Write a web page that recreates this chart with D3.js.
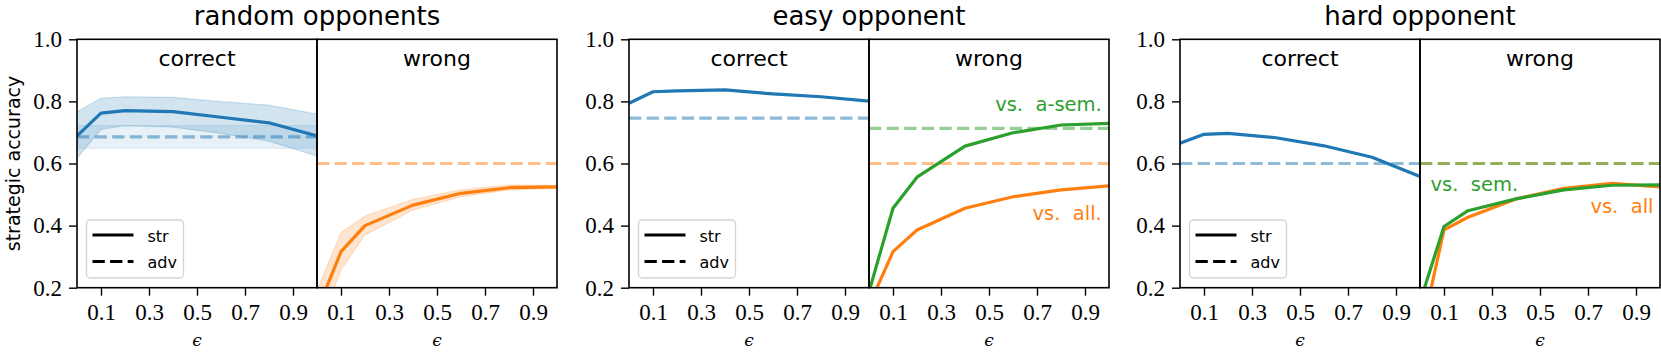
<!DOCTYPE html>
<html>
<head>
<meta charset="utf-8">
<script src="https://cdn.jsdelivr.net/npm/d3@7"></script>
<style>
  html, body { margin: 0; padding: 0; background: #fff; }
  svg { display: block; }
</style>
</head>
<body>
<svg id="chart" width="1661" height="352"></svg>
<script>
// ---------------- data ----------------
const eps = [0, 0.1, 0.2, 0.4, 0.6, 0.8, 1.0];
const xTicks = [0.1, 0.3, 0.5, 0.7, 0.9];
const yTicks = [0.2, 0.4, 0.6, 0.8, 1.0];
const panelTitles = ["random opponents", "easy opponent", "hard opponent"];
const subTitles = ["correct", "wrong"];
const legendLabels = ["str", "adv"];

// random opponents
const randCorrectStr   = [0.689, 0.762, 0.770, 0.767, 0.749, 0.731, 0.689];
const randCorrectStrLo = [0.617, 0.710, 0.722, 0.717, 0.697, 0.672, 0.624];
const randCorrectStrHi = [0.767, 0.810, 0.815, 0.813, 0.799, 0.788, 0.759];
const randCorrectAdv   = 0.686;
const randCorrectAdvLo = 0.649;
const randCorrectAdvHi = 0.722;
const randWrongStr     = [0.125, 0.316, 0.400, 0.466, 0.504, 0.522, 0.525];
const randWrongStrLo   = [0.060, 0.257, 0.370, 0.450, 0.493, 0.515, 0.520];
const randWrongStrHi   = [0.190, 0.377, 0.431, 0.485, 0.515, 0.531, 0.530];
const randWrongAdv     = 0.600;

// easy opponent
const easyCorrectStr   = [0.794, 0.831, 0.834, 0.837, 0.824, 0.815, 0.801];
const easyCorrectAdv   = 0.746;
const easyWrongAll     = [0.142, 0.316, 0.386, 0.456, 0.493, 0.515, 0.528];
const easyWrongSem     = [0.187, 0.456, 0.556, 0.656, 0.699, 0.724, 0.729];
const easyWrongAllAdv  = 0.600;
const easyWrongSemAdv  = 0.713;

// hard opponent
const hardCorrectStr   = [0.665, 0.694, 0.697, 0.683, 0.657, 0.620, 0.558];
const hardCorrectAdv   = 0.600;
const hardWrongAll     = [0.036, 0.386, 0.427, 0.486, 0.520, 0.536, 0.525];
const hardWrongSem     = [0.154, 0.397, 0.448, 0.486, 0.515, 0.530, 0.531];
const hardWrongAllAdv  = 0.600;
const hardWrongSemAdv  = 0.600;

// annotations: [text, x, y, anchor, color key]
const easyLabels = [["vs.  a-sem.", 0.97, 0.770, "end", "green"], ["vs.  all.", 0.97, 0.418, "end", "orange"]];
const hardLabels = [["vs.  sem.", 0.044, 0.511, "start", "green"], ["vs.  all", 0.973, 0.440, "end", "orange"]];

// ---------------- styling / layout ----------------
const C = { blue: "#1f77b4", orange: "#ff7f0e", green: "#2ca02c" };
const panelLeft = [77, 629, 1180];
const subW = 240;
const plotTop = 39.3, plotBottom = 287.7;
const LW = 3.2;
const DASH = "12.3,5.3";
const sansFont = "DejaVu Sans, sans-serif";
const serifFont = "Liberation Serif, Times New Roman, serif";

const svg = d3.select("#chart");
const y = d3.scaleLinear().domain([0.2, 1.0]).range([plotBottom, plotTop]);

let clipId = 0;
function makeSub(px) {
  const x = d3.scaleLinear().domain([0, 1]).range([px, px + subW]);
  const id = "clip" + (clipId++);
  svg.append("clipPath").attr("id", id).append("rect")
    .attr("x", px).attr("y", plotTop).attr("width", subW).attr("height", plotBottom - plotTop);
  const g = svg.append("g").attr("clip-path", `url(#${id})`);
  return { x, g };
}

function line(sub, vals, color, opts = {}) {
  const gen = d3.line().x((d, i) => sub.x(eps[i])).y(d => y(d));
  sub.g.append("path").datum(vals).attr("d", gen)
    .attr("fill", "none").attr("stroke", color).attr("stroke-width", LW)
    .attr("stroke-linejoin", "round")
    .attr("stroke-opacity", opts.opacity ?? 1)
    .attr("stroke-dasharray", opts.dash || null);
}
function hline(sub, v, color) {
  sub.g.append("line").attr("x1", sub.x(0)).attr("x2", sub.x(1))
    .attr("y1", y(v)).attr("y2", y(v))
    .attr("stroke", color).attr("stroke-width", LW).attr("stroke-opacity", 0.5)
    .attr("stroke-dasharray", DASH);
}
function band(sub, lo, hi, color, alpha) {
  const area = d3.area().x((d, i) => sub.x(eps[i])).y0((d, i) => y(lo[i])).y1(d => y(d));
  sub.g.append("path").datum(hi).attr("d", area)
    .attr("fill", color).attr("fill-opacity", alpha)
    .attr("stroke", color).attr("stroke-opacity", alpha).attr("stroke-width", 1.2);
}
function constBand(sub, lo, hi, color, alpha) {
  const area = d3.area().x((d, i) => sub.x(eps[i])).y0(() => y(lo)).y1(() => y(hi));
  sub.g.append("path").datum(eps).attr("d", area)
    .attr("fill", color).attr("fill-opacity", alpha)
    .attr("stroke", color).attr("stroke-opacity", alpha).attr("stroke-width", 1.2);
}

function frameAndAxes(px, pi) {
  for (let s = 0; s < 2; s++) {
    const x = d3.scaleLinear().domain([0, 1]).range([px + s * subW, px + (s + 1) * subW]);
    const ax = d3.axisBottom(x).tickValues(xTicks).tickFormat(d3.format(".1f")).tickSize(8).tickPadding(8);
    const g = svg.append("g").attr("transform", `translate(0,${plotBottom})`).call(ax);
    g.select(".domain").remove();
    g.selectAll("line").attr("stroke", "#000").attr("stroke-width", 1.4);
    g.selectAll("text").attr("font-family", serifFont).attr("font-size", 23).attr("fill", "#000");
    svg.append("text").attr("x", x(0.5)).attr("y", 346).attr("text-anchor", "middle")
      .attr("font-family", "DejaVu Serif, serif").attr("font-size", 17).attr("font-style", "italic").text("\u03F5");
    svg.append("text").attr("x", x(0.5)).attr("y", 65.7).attr("text-anchor", "middle")
      .attr("font-family", sansFont).attr("font-size", 22).text(subTitles[s]);
  }
  const ay = d3.axisLeft(y).tickValues(yTicks).tickFormat(d3.format(".1f")).tickSize(8).tickPadding(7);
  const gy = svg.append("g").attr("transform", `translate(${px},0)`).call(ay);
  gy.select(".domain").remove();
  gy.selectAll("line").attr("stroke", "#000").attr("stroke-width", 1.4);
  gy.selectAll("text").attr("font-family", serifFont).attr("font-size", 23).attr("fill", "#000");
  for (let s = 0; s < 2; s++) {
    svg.append("rect").attr("x", px + s * subW).attr("y", plotTop).attr("width", subW).attr("height", plotBottom - plotTop)
      .attr("fill", "none").attr("stroke", "#000").attr("stroke-width", 1.6);
  }
  svg.append("text").attr("x", px + subW).attr("y", 25).attr("text-anchor", "middle")
    .attr("font-family", sansFont).attr("font-size", 26).text(panelTitles[pi]);
  const lx = px + 9.5, ly = 220;
  const lg = svg.append("g");
  lg.append("rect").attr("x", lx).attr("y", ly).attr("width", 97).attr("height", 58).attr("rx", 4)
    .attr("fill", "#fff").attr("fill-opacity", 0.8).attr("stroke", "#d3d3d3").attr("stroke-width", 1.3);
  const styles = [null, DASH];
  legendLabels.forEach((lab, i) => {
    const yy = ly + 15 + i * 26.5;
    lg.append("line").attr("x1", lx + 6).attr("x2", lx + 47).attr("y1", yy).attr("y2", yy)
      .attr("stroke", "#000").attr("stroke-width", LW).attr("stroke-dasharray", styles[i]);
    lg.append("text").attr("x", lx + 61).attr("y", yy + 6.5)
      .attr("font-family", sansFont).attr("font-size", 16).text(lab);
  });
}

function labels(sub, list) {
  list.forEach(([t, xv, yv, anchor, col]) => {
    svg.append("text").attr("x", sub.x(xv)).attr("y", y(yv)).attr("text-anchor", anchor)
      .attr("font-family", sansFont).attr("font-size", 19.5).attr("fill", C[col])
      .style("white-space", "pre").text(t);
  });
}

{
  const a = makeSub(panelLeft[0]), b = makeSub(panelLeft[0] + subW);
  constBand(a, randCorrectAdvLo, randCorrectAdvHi, C.blue, 0.1);
  band(a, randCorrectStrLo, randCorrectStrHi, C.blue, 0.2);
  hline(a, randCorrectAdv, C.blue);
  line(a, randCorrectStr, C.blue);
  band(b, randWrongStrLo, randWrongStrHi, C.orange, 0.2);
  hline(b, randWrongAdv, C.orange);
  line(b, randWrongStr, C.orange);
  frameAndAxes(panelLeft[0], 0);
}
{
  const a = makeSub(panelLeft[1]), b = makeSub(panelLeft[1] + subW);
  hline(a, easyCorrectAdv, C.blue);
  line(a, easyCorrectStr, C.blue);
  hline(b, easyWrongAllAdv, C.orange);
  hline(b, easyWrongSemAdv, C.green);
  line(b, easyWrongAll, C.orange);
  line(b, easyWrongSem, C.green);
  frameAndAxes(panelLeft[1], 1);
  labels(b, easyLabels);
}
{
  const a = makeSub(panelLeft[2]), b = makeSub(panelLeft[2] + subW);
  hline(a, hardCorrectAdv, C.blue);
  line(a, hardCorrectStr, C.blue);
  hline(b, hardWrongAllAdv, C.orange);
  hline(b, hardWrongSemAdv, C.green);
  line(b, hardWrongAll, C.orange);
  line(b, hardWrongSem, C.green);
  frameAndAxes(panelLeft[2], 2);
  labels(b, hardLabels);
}

svg.append("text").attr("transform", `translate(20,163.5) rotate(-90)`).attr("text-anchor", "middle")
  .attr("font-family", sansFont).attr("font-size", 19).text("strategic accuracy");
</script>
</body>
</html>
